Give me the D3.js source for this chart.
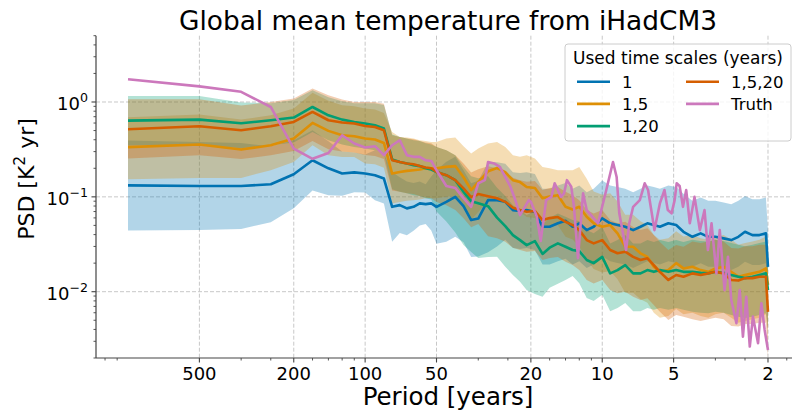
<!DOCTYPE html>
<html>
<head>
<meta charset="utf-8">
<script src="https://cdn.jsdelivr.net/npm/d3@7/dist/d3.min.js"></script>
<style>
  body { margin: 0; background: #fff; }
  svg { display: block; font-family: "DejaVu Sans", sans-serif; }
</style>
</head>
<body>
<div id="chart"></div>
<script>
// frequencies (1/years) of the plotted spectral estimates
const freqs = [0.001,0.002,0.003,0.004,0.005,0.006,0.007,0.008,0.009,0.010,0.011,0.012,0.013,0.014,0.015,0.016,0.017,0.018,0.019,0.020,
  0.022,0.024,0.026,0.028,0.030,0.033,0.036,0.039,0.042,0.045,0.048,0.052,0.056,0.060,0.065,0.070,0.075,0.080,0.086,0.092,
  0.100,0.108,0.116,0.125,0.135,0.145,0.155,0.165,0.175,0.190,0.205,0.220,0.240,0.260,0.280,0.300,0.325,0.350,0.375,0.400,
  0.430,0.460,0.490,0.500];

// "1"
const psd_1 = [0.132,0.130,0.130,0.136,0.173,0.243,0.200,0.176,0.181,0.176,0.169,0.156,0.0785,0.0818,0.0756,0.0785,0.0853,0.0838,0.0853,0.0785,
  0.0886,0.100,0.0798,0.0569,0.059,0.0923,0.0923,0.0886,0.0725,0.0708,0.0725,0.0692,0.0484,0.0484,0.0526,0.0559,0.0484,0.0526,0.0446,0.0484,
  0.0593,0.0526,0.0504,0.0484,0.0446,0.0484,0.0526,0.0504,0.0484,0.0526,0.0504,0.0428,0.0379,0.0412,0.0379,0.0379,0.0365,0.0350,0.0379,0.0428,
  0.0395,0.0395,0.0412,0.0183];
const lo_1 = [0.0443,0.0447,0.0458,0.0541,0.0759,0.117,0.104,0.103,0.112,0.111,0.0922,0.0851,0.0336,0.0415,0.0393,0.0439,0.050,0.0516,0.0443,0.0320,
  0.0336,0.0379,0.0333,0.0232,0.0235,0.026,0.030,0.0353,0.0289,0.0282,0.0289,0.0275,0.0193,0.0193,0.0209,0.0223,0.0193,0.0209,0.0178,0.0193,
  0.0236,0.0209,0.0201,0.0193,0.0178,0.0193,0.0209,0.0201,0.0193,0.0209,0.0201,0.0170,0.0183,0.0199,0.0183,0.0183,0.0176,0.0169,0.0183,0.0207,
  0.0191,0.0191,0.0199,0.00884];
const hi_1 = [0.393,0.378,0.369,0.342,0.394,0.503,0.385,0.300,0.294,0.279,0.310,0.286,0.183,0.161,0.145,0.140,0.145,0.136,0.164,0.192,
  0.234,0.264,0.191,0.139,0.148,0.232,0.232,0.223,0.182,0.178,0.182,0.174,0.122,0.122,0.132,0.140,0.122,0.132,0.112,0.122,
  0.149,0.132,0.127,0.122,0.112,0.122,0.132,0.127,0.122,0.132,0.127,0.108,0.0907,0.0986,0.0907,0.0907,0.0873,0.0838,0.0907,0.102,
  0.0945,0.0945,0.0986,0.0438];

// "1,5"
const psd_1_5 = [0.334,0.356,0.315,0.350,0.412,0.602,0.496,0.446,0.435,0.412,0.402,0.370,0.176,0.183,0.188,0.191,0.194,0.200,0.200,0.200,
  0.207,0.211,0.161,0.118,0.143,0.186,0.201,0.182,0.150,0.143,0.127,0.124,0.0967,0.101,0.104,0.0785,0.0736,0.0785,0.0616,0.0526,
  0.0484,0.0504,0.0412,0.0298,0.0298,0.0254,0.0233,0.0183,0.0162,0.0169,0.0200,0.0176,0.0183,0.0169,0.0162,0.0176,0.0183,0.0162,0.0144,0.0150,
  0.0156,0.0162,0.0176,0.0118];
const lo_1_5 = [0.153,0.158,0.158,0.191,0.233,0.350,0.275,0.263,0.263,0.225,0.220,0.203,0.0850,0.0884,0.0908,0.0923,0.0937,0.0966,0.0966,0.0966,
  0.100,0.102,0.0778,0.0570,0.0691,0.0898,0.0971,0.0879,0.0725,0.0691,0.0613,0.0599,0.0467,0.0488,0.0502,0.0379,0.0355,0.030,0.022,0.0173,
  0.0159,0.0165,0.0135,0.00977,0.00977,0.00833,0.00764,0.00600,0.00531,0.00554,0.00656,0.00577,0.00600,0.00554,0.00531,0.00577,0.00600,0.00531,0.00472,0.00492,
  0.00512,0.00531,0.00577,0.00387];
const hi_1_5 = [0.691,0.737,0.652,0.725,0.853,1.25,1.03,0.923,0.900,0.853,0.832,0.766,0.484,0.428,0.422,0.412,0.395,0.388,0.379,0.379,
  0.412,0.422,0.342,0.286,0.323,0.365,0.379,0.336,0.275,0.264,0.275,0.254,0.207,0.200,0.191,0.191,0.191,0.207,0.155,0.114,
  0.105,0.109,0.0895,0.0647,0.0647,0.0552,0.0506,0.0397,0.0352,0.0367,0.0434,0.0382,0.0397,0.0367,0.0352,0.0382,0.0397,0.0352,0.0313,0.0326,
  0.0339,0.0352,0.0382,0.0256];

// "1,20"
const psd_1_20 = [0.637,0.652,0.597,0.642,0.685,0.886,0.724,0.652,0.616,0.593,0.569,0.526,0.248,0.233,0.225,0.216,0.211,0.200,0.194,0.183,
  0.169,0.150,0.113,0.0901,0.0858,0.0798,0.0604,0.0492,0.0395,0.0350,0.0310,0.0342,0.0250,0.0291,0.0323,0.0298,0.0275,0.0268,0.0216,0.0200,
  0.0233,0.0156,0.0169,0.0191,0.0156,0.0156,0.0169,0.0162,0.0169,0.0162,0.0169,0.0162,0.0162,0.0158,0.0156,0.0162,0.0158,0.0150,0.0144,0.0139,
  0.0144,0.0150,0.0156,0.0104];
const lo_1_20 = [0.348,0.356,0.326,0.350,0.374,0.483,0.395,0.356,0.336,0.324,0.310,0.287,0.120,0.113,0.109,0.104,0.102,0.0966,0.0937,0.070,
  0.055,0.042,0.0310,0.0262,0.0226,0.0232,0.0233,0.0183,0.0150,0.0127,0.0104,0.00944,0.00886,0.0110,0.0121,0.0133,0.0146,0.0123,0.00860,0.00796,
  0.00927,0.00621,0.00673,0.00760,0.00621,0.00621,0.00673,0.00645,0.00673,0.00645,0.00673,0.00645,0.00614,0.00599,0.00591,0.00614,0.00599,0.00569,0.00546,0.00527,
  0.00546,0.00569,0.00591,0.00394];
const hi_1_20 = [1.16,1.16,0.99,0.97,1.05,1.33,1.12,1.02,0.97,0.97,0.97,0.93,0.455,0.427,0.412,0.396,0.387,0.367,0.356,0.335,
  0.310,0.275,0.207,0.165,0.157,0.165,0.125,0.102,0.0818,0.0725,0.0642,0.0708,0.0518,0.0602,0.0669,0.0617,0.0569,0.0555,0.0447,0.0414,
  0.0482,0.0323,0.0350,0.0395,0.0323,0.0323,0.0350,0.0335,0.0350,0.0335,0.0350,0.0335,0.0352,0.0343,0.0339,0.0352,0.0343,0.0326,0.0313,0.0302,
  0.0313,0.0326,0.0339,0.0226];

// "1,5,20"
const psd_1_5_20 = [0.517,0.555,0.504,0.555,0.616,0.785,0.642,0.607,0.593,0.559,0.546,0.504,0.243,0.233,0.225,0.221,0.211,0.204,0.200,0.183,
  0.169,0.150,0.123,0.099,0.107,0.1015,0.0967,0.0886,0.0769,0.0725,0.0696,0.0708,0.0569,0.0597,0.0612,0.0546,0.0504,0.0446,0.0350,0.0323,
  0.0350,0.0275,0.0254,0.0264,0.0233,0.0216,0.0225,0.0191,0.0162,0.0133,0.0150,0.0144,0.0156,0.0150,0.0156,0.0162,0.0156,0.0133,0.0131,0.0139,
  0.0139,0.0144,0.0144,0.00612];
const lo_1_5_20 = [0.254,0.275,0.250,0.275,0.305,0.389,0.318,0.300,0.294,0.277,0.270,0.250,0.117,0.113,0.109,0.107,0.102,0.0985,0.0966,0.0884,
  0.0816,0.0725,0.0594,0.0478,0.0517,0.0385,0.0366,0.0336,0.0291,0.0275,0.0264,0.0268,0.0216,0.0226,0.0232,0.0207,0.0191,0.0169,0.0133,0.0122,
  0.0133,0.0104,0.00963,0.0100,0.00883,0.00819,0.00853,0.00724,0.00614,0.00504,0.00569,0.00546,0.00512,0.00492,0.00512,0.00531,0.00512,0.00436,0.00430,0.00456,
  0.00456,0.00472,0.00472,0.00201];
const hi_1_5_20 = [1.07,1.07,0.92,1.00,1.09,1.39,1.18,1.06,1.00,1.00,1.00,0.96,0.445,0.427,0.412,0.405,0.387,0.374,0.367,0.335,
  0.310,0.275,0.225,0.181,0.196,0.210,0.200,0.183,0.159,0.150,0.144,0.147,0.118,0.124,0.127,0.113,0.104,0.0923,0.0725,0.0669,
  0.0725,0.0569,0.0526,0.0546,0.0482,0.0447,0.0466,0.0395,0.0335,0.0275,0.0311,0.0298,0.0339,0.0326,0.0339,0.0352,0.0339,0.0289,0.0285,0.0302,
  0.0302,0.0313,0.0313,0.0133];

// Truth
const truthFreqs = [0.001,0.002,0.003,0.004,0.005,0.006,0.007,0.008,0.009,0.010,0.011,0.012,0.013,0.014,0.015,0.016,0.017,0.018,0.019,0.020,
  0.022,0.024,0.026,0.028,0.030,0.032,0.033,0.035,0.037,0.041,0.043,0.045,0.049,0.050,0.053,0.055,0.058,0.061,0.063,0.067,
  0.069,0.071,0.074,0.076,0.079,0.083,0.086,0.091,0.096,0.104,0.111,0.115,0.118,0.126,0.130,0.135,0.144,0.151,0.156,0.161,
  0.166,0.175,0.183,0.189,0.196,0.202,0.206,0.212,0.219,0.226,0.234,0.245,0.258,0.270,0.279,0.289,0.303,0.313,0.328,0.339,
  0.350,0.368,0.380,0.392,0.405,0.419,0.432,0.454,0.469,0.484,0.500];
const truthPsd = [1.74,1.46,1.28,0.886,0.323,0.252,0.290,0.446,0.365,0.331,0.342,0.275,0.350,0.395,0.275,0.264,0.264,0.243,0.239,0.191,
  0.130,0.124,0.097,0.0785,0.139,0.150,0.233,0.225,0.207,0.128,0.0923,0.0642,0.0923,0.0886,0.0616,0.0342,0.0923,0.0999,0.139,0.0999,
  0.109,0.150,0.128,0.0785,0.0226,0.109,0.0725,0.0616,0.0526,0.118,0.233,0.162,0.0670,0.0275,0.0526,0.0785,0.0923,0.139,0.118,0.0725,
  0.0446,0.0853,0.118,0.0725,0.0670,0.0923,0.139,0.130,0.0785,0.118,0.0526,0.0999,0.0446,0.0725,0.0275,0.0526,0.0156,0.0446,0.0104,0.0233,
  0.00818,0.00466,0.0104,0.00336,0.00886,0.00264,0.00546,0.00286,0.00756,0.00395,0.00243];

// axis ticks
const xTickFreqs = [0.002,0.005,0.01,0.02,0.05,0.1,0.2,0.5];
const xTickLabels = ["500","200","100","50","20","10","5","2"];
const xMinorFreqs = [0.0008,0.0009,0.003,0.004,0.006,0.007,0.008,0.009,0.03,0.04,0.06,0.07,0.08,0.09,0.3,0.4,0.6];
const yTickValues = [0.01,0.1,1];
const yTickExps = ["\u22122","\u22121","0"];

const W = 792, H = 417;
const plotL = 96, plotR = 800, plotT = 35.7, plotB = 358;

const series = [
  {name: "1", color: "#0173b2", psd: psd_1, lo: lo_1, hi: hi_1},
  {name: "1,5", color: "#de8f05", psd: psd_1_5, lo: lo_1_5, hi: hi_1_5},
  {name: "1,20", color: "#029e73", psd: psd_1_20, lo: lo_1_20, hi: hi_1_20},
  {name: "1,5,20", color: "#d55e00", psd: psd_1_5_20, lo: lo_1_5_20, hi: hi_1_5_20}
];
const truth = {name: "Truth", color: "#cc78bc"};

// log axis with 5% padding on the frequency range
const x = d3.scaleLog().domain([0.001 / 1.3646, 0.5 * 1.3646]).range([plotL, plotR]);
const y = d3.scaleLog().domain([0.002, 5]).range([plotB, plotT]);

const svg = d3.select("#chart").append("svg")
  .attr("width", W)
  .attr("height", H);

svg.append("defs").append("clipPath").attr("id", "plotclip")
  .append("rect")
  .attr("x", plotL).attr("y", plotT)
  .attr("width", plotR - plotL).attr("height", plotB - plotT);

// grid
const grid = svg.append("g");
grid.selectAll("line.gx").data(xTickFreqs).enter().append("line")
  .attr("x1", d => x(d)).attr("x2", d => x(d))
  .attr("y1", plotT).attr("y2", plotB)
  .attr("stroke", "#c8c8c8").attr("stroke-width", 1).attr("stroke-dasharray", "4,2");
grid.selectAll("line.gy").data(yTickValues).enter().append("line")
  .attr("x1", plotL).attr("x2", plotR)
  .attr("y1", d => y(d)).attr("y2", d => y(d))
  .attr("stroke", "#c8c8c8").attr("stroke-width", 1).attr("stroke-dasharray", "4,2");

const plot = svg.append("g").attr("clip-path", "url(#plotclip)");

// uncertainty bands
series.forEach(s => {
  const area = d3.area()
    .x((d, i) => x(freqs[i]))
    .y0((d, i) => y(s.lo[i]))
    .y1((d, i) => y(s.hi[i]));
  plot.append("path")
    .datum(s.psd)
    .attr("d", area)
    .attr("fill", s.color)
    .attr("fill-opacity", 0.3);
});

// mean spectra
series.forEach(s => {
  const line = d3.line()
    .x((d, i) => x(freqs[i]))
    .y(d => y(d));
  plot.append("path")
    .datum(s.psd)
    .attr("d", line)
    .attr("fill", "none")
    .attr("stroke", s.color)
    .attr("stroke-width", 2.6)
    .attr("stroke-linejoin", "round");
});

plot.append("path")
  .datum(truthPsd)
  .attr("d", d3.line().x((d, i) => x(truthFreqs[i])).y(d => y(d)))
  .attr("fill", "none")
  .attr("stroke", truth.color)
  .attr("stroke-width", 2.6)
  .attr("stroke-linejoin", "round");

// spines
svg.append("line").attr("x1", plotL).attr("x2", plotL).attr("y1", plotT).attr("y2", plotB)
  .attr("stroke", "#444").attr("stroke-width", 1.2);
svg.append("line").attr("x1", plotL).attr("x2", plotR).attr("y1", plotB).attr("y2", plotB)
  .attr("stroke", "#444").attr("stroke-width", 1.2);

// x ticks
svg.selectAll("line.xmin").data(xMinorFreqs).enter().append("line")
  .attr("x1", d => x(d)).attr("x2", d => x(d))
  .attr("y1", plotB).attr("y2", plotB + 2.5)
  .attr("stroke", "#444").attr("stroke-width", 0.9);
svg.selectAll("line.xmaj").data(xTickFreqs).enter().append("line")
  .attr("x1", d => x(d)).attr("x2", d => x(d))
  .attr("y1", plotB).attr("y2", plotB + 4.5)
  .attr("stroke", "#444").attr("stroke-width", 1.1);
svg.selectAll("text.xlab").data(xTickFreqs).enter().append("text")
  .attr("x", d => x(d))
  .attr("y", 380)
  .attr("text-anchor", "middle")
  .style("font-size", "18px")
  .text((d, i) => xTickLabels[i]);

// y ticks
const yMinor = [];
[0.001, 0.01, 0.1, 1].forEach(dec => {
  for (let m = 2; m <= 9; m++) {
    const v = dec * m;
    if (v >= 0.002 && v <= 5) yMinor.push(v);
  }
});
svg.selectAll("line.ymin").data(yMinor).enter().append("line")
  .attr("x1", plotL - 2.5).attr("x2", plotL)
  .attr("y1", d => y(d)).attr("y2", d => y(d))
  .attr("stroke", "#444").attr("stroke-width", 0.9);
svg.selectAll("line.ymaj").data(yTickValues).enter().append("line")
  .attr("x1", plotL - 4.5).attr("x2", plotL)
  .attr("y1", d => y(d)).attr("y2", d => y(d))
  .attr("stroke", "#444").attr("stroke-width", 1.1);
const ylab = svg.selectAll("text.ylab").data(yTickValues).enter().append("text")
  .attr("x", 88)
  .attr("y", d => y(d) + 8)
  .attr("text-anchor", "end")
  .style("font-size", "18px");
ylab.append("tspan").text("10");
ylab.append("tspan")
  .attr("dy", -8)
  .style("font-size", "12.6px")
  .text((d, i) => yTickExps[i]);

// axis labels and title
svg.append("text")
  .attr("x", (plotL + plotR) / 2)
  .attr("y", 405)
  .attr("text-anchor", "middle")
  .style("font-size", "24.5px")
  .text("Period [years]");

const yl = svg.append("text")
  .attr("transform", "translate(33.5,179) rotate(-90)")
  .attr("text-anchor", "middle")
  .style("font-size", "22px");
yl.append("tspan").text("PSD [K");
yl.append("tspan").attr("dy", -8.5).style("font-size", "15.5px").text("2");
yl.append("tspan").attr("dy", 8.5).text(" yr]");

svg.append("text")
  .attr("x", (plotL + plotR) / 2)
  .attr("y", 30)
  .attr("text-anchor", "middle")
  .style("font-size", "26.4px")
  .text("Global mean temperature from iHadCM3");

// legend
const legend = svg.append("g");
legend.append("rect")
  .attr("x", 565).attr("y", 44)
  .attr("width", 226).attr("height", 97)
  .attr("rx", 3)
  .attr("fill", "#fff").attr("fill-opacity", 0.8)
  .attr("stroke", "#cccccc").attr("stroke-width", 1);
legend.append("text")
  .attr("x", 678).attr("y", 64)
  .attr("text-anchor", "middle")
  .style("font-size", "17px")
  .text("Used time scales (years)");

const entries = series.concat([truth]);
entries.forEach((s, i) => {
  const col = i < 3 ? 0 : 1;
  const row = i < 3 ? i : i - 3;
  const lx = col === 0 ? 577 : 686;
  const ly = 81.7 + row * 22.2;
  legend.append("line")
    .attr("x1", lx).attr("x2", lx + 33)
    .attr("y1", ly).attr("y2", ly)
    .attr("stroke", s.color).attr("stroke-width", 2.6);
  legend.append("text")
    .attr("x", lx + 45).attr("y", ly + 6)
    .style("font-size", "16.5px")
    .text(s.name);
});
</script>
</body>
</html>
